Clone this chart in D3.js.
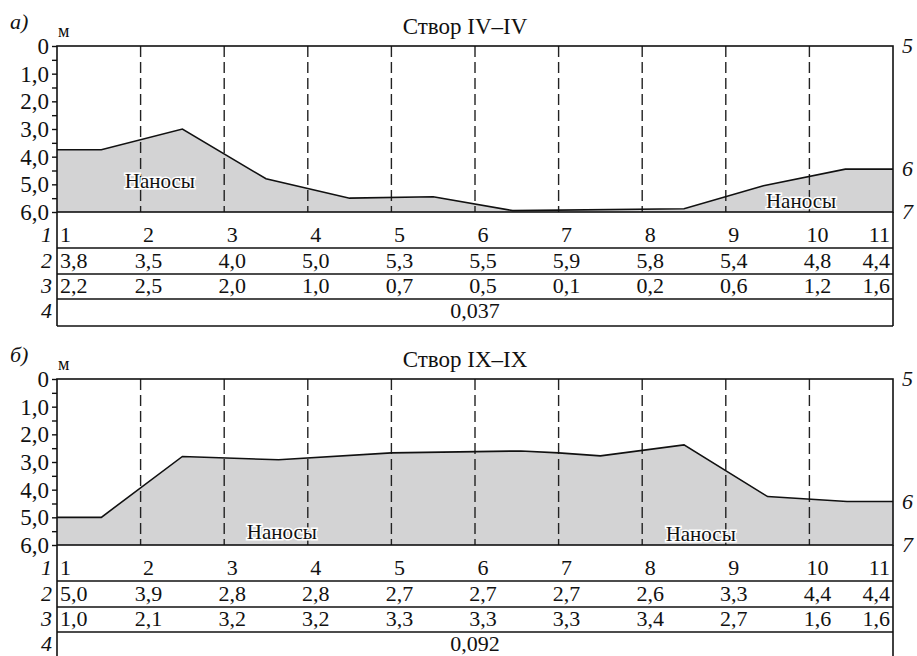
<!DOCTYPE html>
<html>
<head lang="ru">
	<meta charset="UTF-8">
	<title>Створы</title>
	<script src="https://cdn.jsdelivr.net/npm/d3@7"></script>
	<style>
		body { margin: 0; background: #fff; }
	</style>
</head>
<body>

<script>

	// station numbers (row 1)
	var stations = [1, 2, 3, 4, 5, 6, 7, 8, 9, 10, 11];

	// row 2 / row 3 / row 4 of each table
	var depthA = [3.8, 3.5, 4.0, 5.0, 5.3, 5.5, 5.9, 5.8, 5.4, 4.8, 4.4];
	var row3A = [2.2, 2.5, 2.0, 1.0, 0.7, 0.5, 0.1, 0.2, 0.6, 1.2, 1.6];
	var row4A = 0.037;

	var depthB = [5.0, 3.9, 2.8, 2.8, 2.7, 2.7, 2.7, 2.6, 3.3, 4.4, 4.4];
	var row3B = [1.0, 2.1, 3.2, 3.2, 3.3, 3.3, 3.3, 3.4, 2.7, 1.6, 1.6];
	var row4B = 0.092;

	// bed profile (station position, depth m)
	var profileStA = [1, 1.53, 2.5, 3.5, 4.5, 5.5, 6.45, 8.5, 9.45, 10.43, 11];
	var profileDepA = [3.75, 3.75, 3.0, 4.8, 5.5, 5.45, 5.95, 5.88, 5.05, 4.45, 4.45];

	var profileStB = [1, 1.53, 2.5, 3.65, 5.0, 6.55, 7.0, 7.5, 8.5, 9.5, 10.45, 11];
	var profileDepB = [5.0, 5.0, 2.8, 2.92, 2.67, 2.6, 2.67, 2.78, 2.38, 4.25, 4.43, 4.43];

	// y axis ticks
	var depthTicks = [0, 0.5, 1, 1.5, 2, 2.5, 3, 3.5, 4, 4.5, 5, 5.5, 6];
	var rowNames = ["1", "2", "3", "4"];
	var sideNames = ["5", "6", "7"];
	var sedimentLabel = "Наносы";

	var FONT = '"Liberation Serif", "Times New Roman", Times, "DejaVu Serif", serif';

	var svg = d3.select('body').append('svg').attr('width', 917).attr('height', 656);

	function comma(v, digits) {
		return v.toFixed(digits).replace('.', ',');
	}

	function txt(g, px, py, s, size, italic) {
		return g.append('text').attr('x', px).attr('y', py)
				.attr('font-family', FONT).attr('font-size', size)
				.attr('font-style', italic ? 'italic' : 'normal')
				.attr('fill', '#111').text(s);
	}

	var x = d3.scaleLinear().domain([1, 11]).range([57, 893]);

	function drawPanel(p) {
		var y = d3.scaleLinear().domain([0, 6]).range([p.top, p.top + 166]);
		var bottom = y(6);
		var g = svg.append('g');

		// panel letter, unit, title
		txt(g, 10, p.top - 17, p.letter, 22, true);
		txt(g, 58, p.top - 9, 'м', 18, false);
		txt(g, 465, p.top - 12, p.title, 23, false).attr('text-anchor', 'middle');

		// sediment fill + bed line
		var pts = p.profSt.map(function (s, i) { return [s, p.profDep[i]]; });
		var area = d3.area().x(function (d) { return x(d[0]); }).y0(bottom).y1(function (d) { return y(d[1]); });
		var line = d3.line().x(function (d) { return x(d[0]); }).y(function (d) { return y(d[1]); });
		g.append('path').attr('d', area(pts)).style('fill', '#d3d3d4');

		// dashed station verticals
		g.selectAll('line.st').data(stations.slice(1, 10)).enter().append('line')
				.attr('x1', function (d) { return x(d); }).attr('x2', function (d) { return x(d); })
				.attr('y1', p.top).attr('y2', bottom)
				.style('stroke', '#222').style('stroke-width', 1.4).style('stroke-dasharray', '11,5');

		g.append('path').attr('d', line(pts)).style('fill', 'none').style('stroke', '#111').style('stroke-width', 1.6);

		// sediment labels with white halo
		p.sediment.forEach(function (s) {
			txt(g, x(s[0]), y(s[1]), sedimentLabel, 21, false).attr('text-anchor', 'middle')
					.style('stroke', '#fff').style('stroke-width', 3).style('paint-order', 'stroke');
		});

		// y axis
		var axis = d3.axisLeft(y).tickValues(depthTicks).tickSize(5).tickPadding(3)
				.tickFormat(function (d) { return d % 1 ? '' : (d === 0 ? '0' : comma(d, 1)); });
		var ax = g.append('g').attr('transform', 'translate(57,0)').call(axis)
				.attr('font-family', FONT).attr('font-size', 23);
		ax.select('.domain').remove();
		ax.selectAll('line').style('stroke', '#111').style('stroke-width', 1.4);
		ax.selectAll('text').attr('dy', '0.33em').attr('fill', '#111');

		// frame: plot box + table
		var rows = [bottom + 36, bottom + 62, bottom + 87, bottom + 114];
		g.append('rect').attr('x', 57).attr('y', p.top).attr('width', 836).attr('height', 166)
				.style('fill', 'none').style('stroke', '#111').style('stroke-width', 1.6);
		g.append('line').attr('x1', 57).attr('x2', 57).attr('y1', bottom).attr('y2', rows[3]).style('stroke', '#111').style('stroke-width', 1.6);
		g.append('line').attr('x1', 893).attr('x2', 893).attr('y1', bottom).attr('y2', rows[3]).style('stroke', '#111').style('stroke-width', 1.6);
		rows.forEach(function (r) {
			g.append('line').attr('x1', 57).attr('x2', 893).attr('y1', r).attr('y2', r).style('stroke', '#111').style('stroke-width', 1.4);
		});

		// table rows
		var baselines = [bottom + 30, bottom + 56, bottom + 81, bottom + 106];
		var tableRows = [
			stations.map(String),
			p.depth.map(function (v) { return comma(v, 1); }),
			p.row3.map(function (v) { return comma(v, 1); })
		];
		tableRows.forEach(function (vals, r) {
			vals.forEach(function (d, i) {
				var px = i === 0 ? x(1) + 3 : (i === 10 ? x(11) - 3 : x(stations[i]) + 8);
				var anchor = i === 0 ? 'start' : (i === 10 ? 'end' : 'middle');
				txt(g, px, baselines[r], d, 22, false).attr('text-anchor', anchor);
			});
		});
		txt(g, 475, baselines[3], comma(p.row4, 3), 22, false).attr('text-anchor', 'middle');

		// row names on the left
		rowNames.forEach(function (n, i) {
			txt(g, 52, baselines[i], n, 22, true).attr('text-anchor', 'end');
		});

		// side marks on the right
		var sideY = [p.top, y(p.profDep[p.profDep.length - 1]), bottom];
		sideNames.forEach(function (n, i) {
			txt(g, 902, sideY[i] + 7, n, 22, true);
		});
	}

	drawPanel({
		top: 46, letter: 'а)', title: 'Створ IV–IV',
		depth: depthA, row3: row3A, row4: row4A,
		profSt: profileStA, profDep: profileDepA,
		sediment: [[2.23, 5.15], [9.9, 5.85]]
	});

	drawPanel({
		top: 379, letter: 'б)', title: 'Створ IX–IX',
		depth: depthB, row3: row3B, row4: row4B,
		profSt: profileStB, profDep: profileDepB,
		sediment: [[3.69, 5.8], [8.7, 5.85]]
	});

</script>

</body>
</html>
